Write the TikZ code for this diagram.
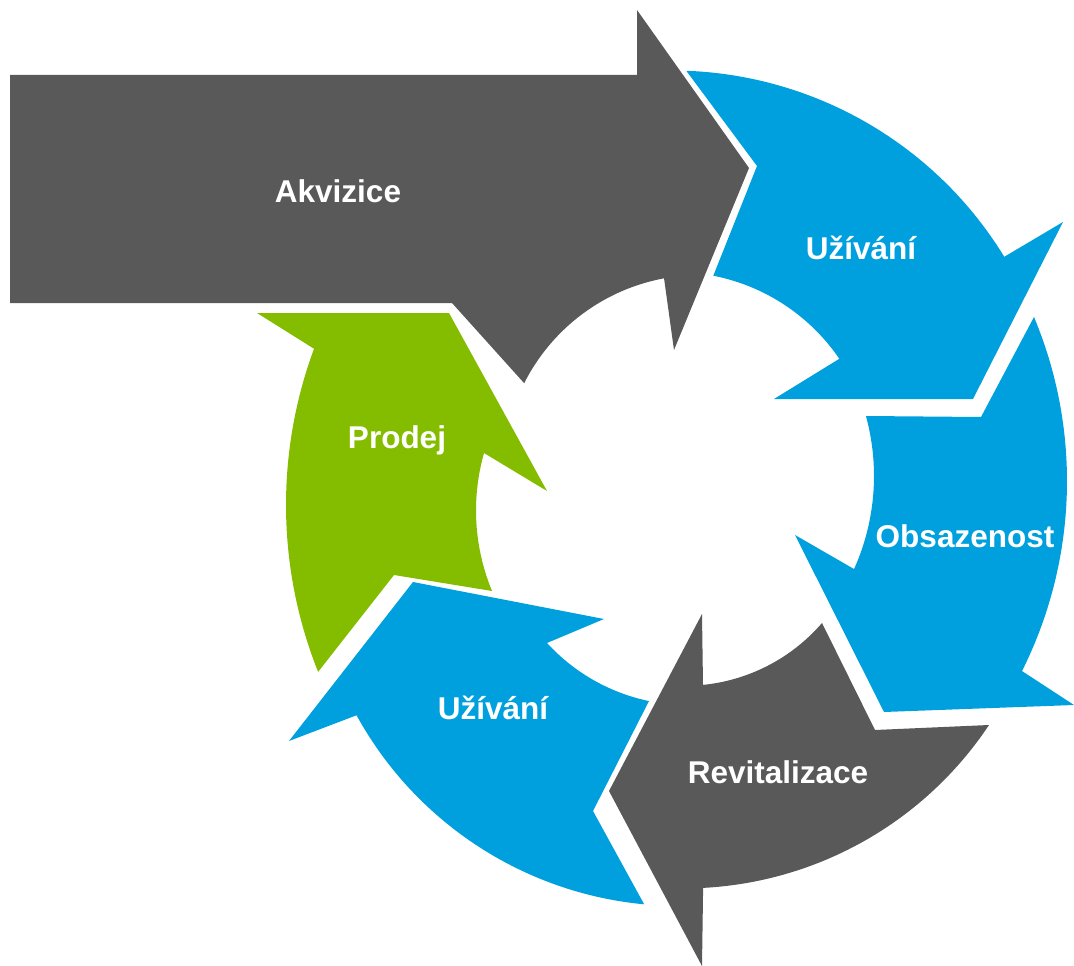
\documentclass[tikz,border=0pt]{standalone}
\usepackage{fontspec}
\setmainfont{Liberation Sans}
\definecolor{cgray}{RGB}{89,89,89}
\definecolor{cblue}{RGB}{0,160,223}
\definecolor{cgreen}{RGB}{132,189,0}
\tikzset{lbl/.style={text=white, font=\fontsize{31.5}{36}\selectfont\bfseries, anchor=base, inner sep=0pt}}
\begin{document}
\begin{tikzpicture}[x=1pt,y=-1pt,samples=60]
\fill[white] (0,0) rectangle (1074,966);
\useasboundingbox (0,0) rectangle (1074,966);
% Akvizice
\fill[cgray] (10,75) -- (637,75) -- (637,10) -- (749,168) -- (674,350) -- (664,278)
  -- plot[domain=-100.5:-153.2] ({700+197*cos(\x)},{472+197*sin(\x)})
  -- (452,303) -- (10,303) -- cycle;
% Uzivani top
\fill[cblue] plot[domain=-87.9:-31.45] ({672+389.5*cos(\x)},{460+389.5*sin(\x)})
  -- (1063,222) -- (973,399) -- (774,399) -- (839,359)
  -- plot[domain=-34.35:-78.9] ({675+199*cos(\x)},{471+199*sin(\x)})
  -- (757,166) -- cycle;
% Obsazenost
\fill[cblue] (866,416) -- (981,417) -- (1034,317)
  -- plot[domain=-22.76:26.63] ({643+424*cos(\x)},{481+424*sin(\x)})
  -- (1074,705) -- (884,712) -- (795,535) -- (854,569)
  -- plot[domain=24.24:-15.27] ({647+227*cos(\x)},{476+227*sin(\x)}) -- cycle;
% Revitalizace
\fill[cgray] (822,623) -- (875,730) -- (989,725)
  -- plot[domain=33.62:87.01] ({684+366.4*cos(\x)},{522+366.4*sin(\x)})
  -- (702,966) -- (609,791) -- (702,614) -- (703,685)
  -- plot[domain=84.25:40.69] ({685+180.8*cos(\x)},{505+180.8*sin(\x)}) -- cycle;
% Uzivani bottom
\fill[cblue] (649,701) -- (593,811) -- (644,904)
  -- plot[domain=95.52:151.2] ({679+368*cos(\x)},{538+368*sin(\x)})
  -- (289,741) -- (413,582) -- (604,619) -- (547,643)
  -- plot[domain=137.5:101.7] ({688+191.1*cos(\x)},{514+191.1*sin(\x)}) -- cycle;
% Prodej
\fill[cgreen] (492,591) -- (394,575) -- (318,672)
  -- plot[domain=158.27:200.32] ({736+450*cos(\x)},{505+450*sin(\x)})
  -- (257,313) -- (449,313) -- (547,491) -- (484,453)
  -- plot[domain=195.9:157.45] ({686+210*cos(\x)},{510.5+210*sin(\x)}) -- cycle;
% labels
\node[lbl] (akv) at (338,202) {Akvizice};
\node[lbl] (uz1) at (861,259) {Užívání};
\node[lbl] (obs) at (965,547) {Obsazenost};
\node[lbl] (rev) at (778,783) {Revitalizace};
\node[lbl] (uz2) at (493,719) {Užívání};
\node[lbl] (pro) at (397,448) {Prodej};
\end{tikzpicture}
\end{document}
